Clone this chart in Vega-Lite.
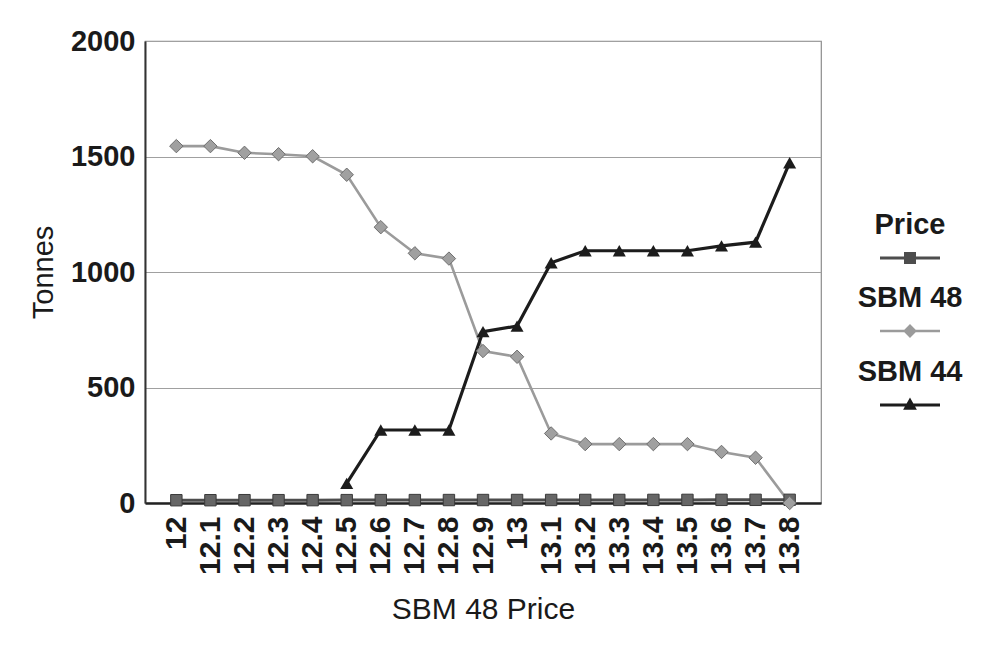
{
  "$schema": "https://vega.github.io/schema/vega-lite/v6.json",
  "width": 676,
  "height": 462,
  "autosize": {"type": "none"},
  "padding": {"left": 145, "top": 41, "right": 174, "bottom": 148},
  "background": "white",
  "config": {
    "font": "Liberation Sans",
    "view": {"stroke": "#8c8c8c", "strokeWidth": 1.2}
  },
  "data": {
    "values": [
      {"price": 12, "series": "Price", "tonnes": 12},
      {"price": 12.1, "series": "Price", "tonnes": 12.1},
      {"price": 12.2, "series": "Price", "tonnes": 12.2},
      {"price": 12.3, "series": "Price", "tonnes": 12.3},
      {"price": 12.4, "series": "Price", "tonnes": 12.4},
      {"price": 12.5, "series": "Price", "tonnes": 12.5},
      {"price": 12.6, "series": "Price", "tonnes": 12.6},
      {"price": 12.7, "series": "Price", "tonnes": 12.7},
      {"price": 12.8, "series": "Price", "tonnes": 12.8},
      {"price": 12.9, "series": "Price", "tonnes": 12.9},
      {"price": 13, "series": "Price", "tonnes": 13},
      {"price": 13.1, "series": "Price", "tonnes": 13.1},
      {"price": 13.2, "series": "Price", "tonnes": 13.2},
      {"price": 13.3, "series": "Price", "tonnes": 13.3},
      {"price": 13.4, "series": "Price", "tonnes": 13.4},
      {"price": 13.5, "series": "Price", "tonnes": 13.5},
      {"price": 13.6, "series": "Price", "tonnes": 13.6},
      {"price": 13.7, "series": "Price", "tonnes": 13.7},
      {"price": 13.8, "series": "Price", "tonnes": 13.8},
      {"price": 12, "series": "SBM 48", "tonnes": 1545},
      {"price": 12.1, "series": "SBM 48", "tonnes": 1545},
      {"price": 12.2, "series": "SBM 48", "tonnes": 1516},
      {"price": 12.3, "series": "SBM 48", "tonnes": 1510},
      {"price": 12.4, "series": "SBM 48", "tonnes": 1501},
      {"price": 12.5, "series": "SBM 48", "tonnes": 1421},
      {"price": 12.6, "series": "SBM 48", "tonnes": 1194},
      {"price": 12.7, "series": "SBM 48", "tonnes": 1081},
      {"price": 12.8, "series": "SBM 48", "tonnes": 1058},
      {"price": 12.9, "series": "SBM 48", "tonnes": 658},
      {"price": 13, "series": "SBM 48", "tonnes": 633},
      {"price": 13.1, "series": "SBM 48", "tonnes": 301},
      {"price": 13.2, "series": "SBM 48", "tonnes": 255},
      {"price": 13.3, "series": "SBM 48", "tonnes": 255},
      {"price": 13.4, "series": "SBM 48", "tonnes": 255},
      {"price": 13.5, "series": "SBM 48", "tonnes": 255},
      {"price": 13.6, "series": "SBM 48", "tonnes": 221},
      {"price": 13.7, "series": "SBM 48", "tonnes": 196},
      {"price": 13.8, "series": "SBM 48", "tonnes": 0},
      {"price": 12.5, "series": "SBM 44", "tonnes": 85},
      {"price": 12.6, "series": "SBM 44", "tonnes": 316},
      {"price": 12.7, "series": "SBM 44", "tonnes": 316},
      {"price": 12.8, "series": "SBM 44", "tonnes": 316},
      {"price": 12.9, "series": "SBM 44", "tonnes": 742},
      {"price": 13, "series": "SBM 44", "tonnes": 766},
      {"price": 13.1, "series": "SBM 44", "tonnes": 1040},
      {"price": 13.2, "series": "SBM 44", "tonnes": 1092},
      {"price": 13.3, "series": "SBM 44", "tonnes": 1092},
      {"price": 13.4, "series": "SBM 44", "tonnes": 1092},
      {"price": 13.5, "series": "SBM 44", "tonnes": 1092},
      {"price": 13.6, "series": "SBM 44", "tonnes": 1113},
      {"price": 13.7, "series": "SBM 44", "tonnes": 1129},
      {"price": 13.8, "series": "SBM 44", "tonnes": 1473}
    ]
  },
  "encoding": {
    "x": {
      "field": "price",
      "type": "ordinal",
      "scale": {"type": "point", "padding": 0.92},
      "axis": {
        "title": "SBM 48 Price",
        "titleFontSize": 30,
        "titleFontWeight": "normal",
        "titleColor": "#1a1a1a",
        "titlePadding": 20,
        "labelAngle": -90,
        "labelFontSize": 30,
        "labelFontWeight": "bold",
        "labelColor": "#1a1a1a",
        "labelPadding": 13,
        "ticks": false,
        "grid": false,
        "domainColor": "#222222",
        "domainWidth": 2.5
      }
    },
    "y": {
      "field": "tonnes",
      "type": "quantitative",
      "scale": {"domain": [0, 2000], "nice": false},
      "axis": {
        "title": "Tonnes",
        "titleFontSize": 29,
        "titleFontWeight": "normal",
        "titleColor": "#1a1a1a",
        "titlePadding": 12,
        "values": [0, 500, 1000, 1500, 2000],
        "format": "d",
        "labelFontSize": 29,
        "labelFontWeight": "bold",
        "labelColor": "#1a1a1a",
        "labelPadding": 10,
        "ticks": false,
        "grid": true,
        "gridColor": "#a0a0a0",
        "gridWidth": 1.2,
        "domainColor": "#333333",
        "domainWidth": 2
      }
    }
  },
  "layer": [
    {
      "transform": [{"filter": "datum.series === 'Price'"}],
      "mark": {"type": "line", "color": "#4d4d4d", "strokeWidth": 3}
    },
    {
      "transform": [{"filter": "datum.series === 'SBM 48'"}],
      "mark": {"type": "line", "color": "#9b9b9b", "strokeWidth": 2.6}
    },
    {
      "transform": [{"filter": "datum.series === 'SBM 44'"}],
      "mark": {"type": "line", "color": "#1c1c1c", "strokeWidth": 3.2}
    },
    {
      "transform": [{"filter": "datum.series === 'Price'"}],
      "mark": {"type": "point", "shape": "square", "filled": true, "size": 130, "fill": "#666666", "stroke": "#3a3a3a", "strokeWidth": 1, "opacity": 1}
    },
    {
      "transform": [{"filter": "datum.series === 'SBM 48'"}],
      "mark": {"type": "point", "shape": "diamond", "filled": true, "size": 180, "fill": "#a0a0a0", "stroke": "#6e6e6e", "strokeWidth": 1, "opacity": 1}
    },
    {
      "transform": [{"filter": "datum.series === 'SBM 44'"}],
      "mark": {"type": "point", "shape": "triangle-up", "filled": true, "size": 170, "fill": "#1c1c1c", "opacity": 1}
    },
    {
      "transform": [{"filter": "datum.tonnes < 0"}],
      "mark": {"type": "point", "filled": true, "opacity": 1},
      "encoding": {
        "color": {
          "field": "series",
          "type": "nominal",
          "scale": {"domain": ["Price", "SBM 48", "SBM 44"], "range": ["#4d4d4d", "#9b9b9b", "#1c1c1c"]},
          "legend": {
            "title": null,
            "orient": "none",
            "legendX": 735,
            "legendY": 187,
            "padding": 0,
            "symbolSize": 3600,
            "symbolStrokeWidth": 0,
            "symbolOpacity": 1,
            "labelFontSize": 29,
            "labelFontWeight": "bold",
            "labelColor": "#1a1a1a",
            "labelAlign": "center",
            "labelOffset": -30,
            "labelLimit": 300,
            "rowPadding": 20,
            "encoding": {"labels": {"dy": {"value": -33}}}
          }
        },
        "shape": {
          "field": "series",
          "type": "nominal",
          "scale": {
            "domain": ["Price", "SBM 48", "SBM 44"],
            "range": [
              "M-1,-0.05H1V0.05H-1Z M-0.2,-0.2H0.2V0.2H-0.2Z",
              "M-1,-0.04H1V0.04H-1Z M0,-0.23L0.23,0L0,0.23L-0.23,0Z",
              "M-1,-0.05H1V0.05H-1Z M0,-0.25L0.23,0.16L-0.23,0.16Z"
            ]
          },
          "legend": {
            "title": null,
            "orient": "none",
            "legendX": 735,
            "legendY": 187,
            "padding": 0,
            "symbolSize": 3600,
            "symbolStrokeWidth": 0,
            "symbolOpacity": 1,
            "labelFontSize": 29,
            "labelFontWeight": "bold",
            "labelColor": "#1a1a1a",
            "labelAlign": "center",
            "labelOffset": -30,
            "labelLimit": 300,
            "rowPadding": 20,
            "encoding": {"labels": {"dy": {"value": -33}}}
          }
        }
      }
    }
  ]
}
